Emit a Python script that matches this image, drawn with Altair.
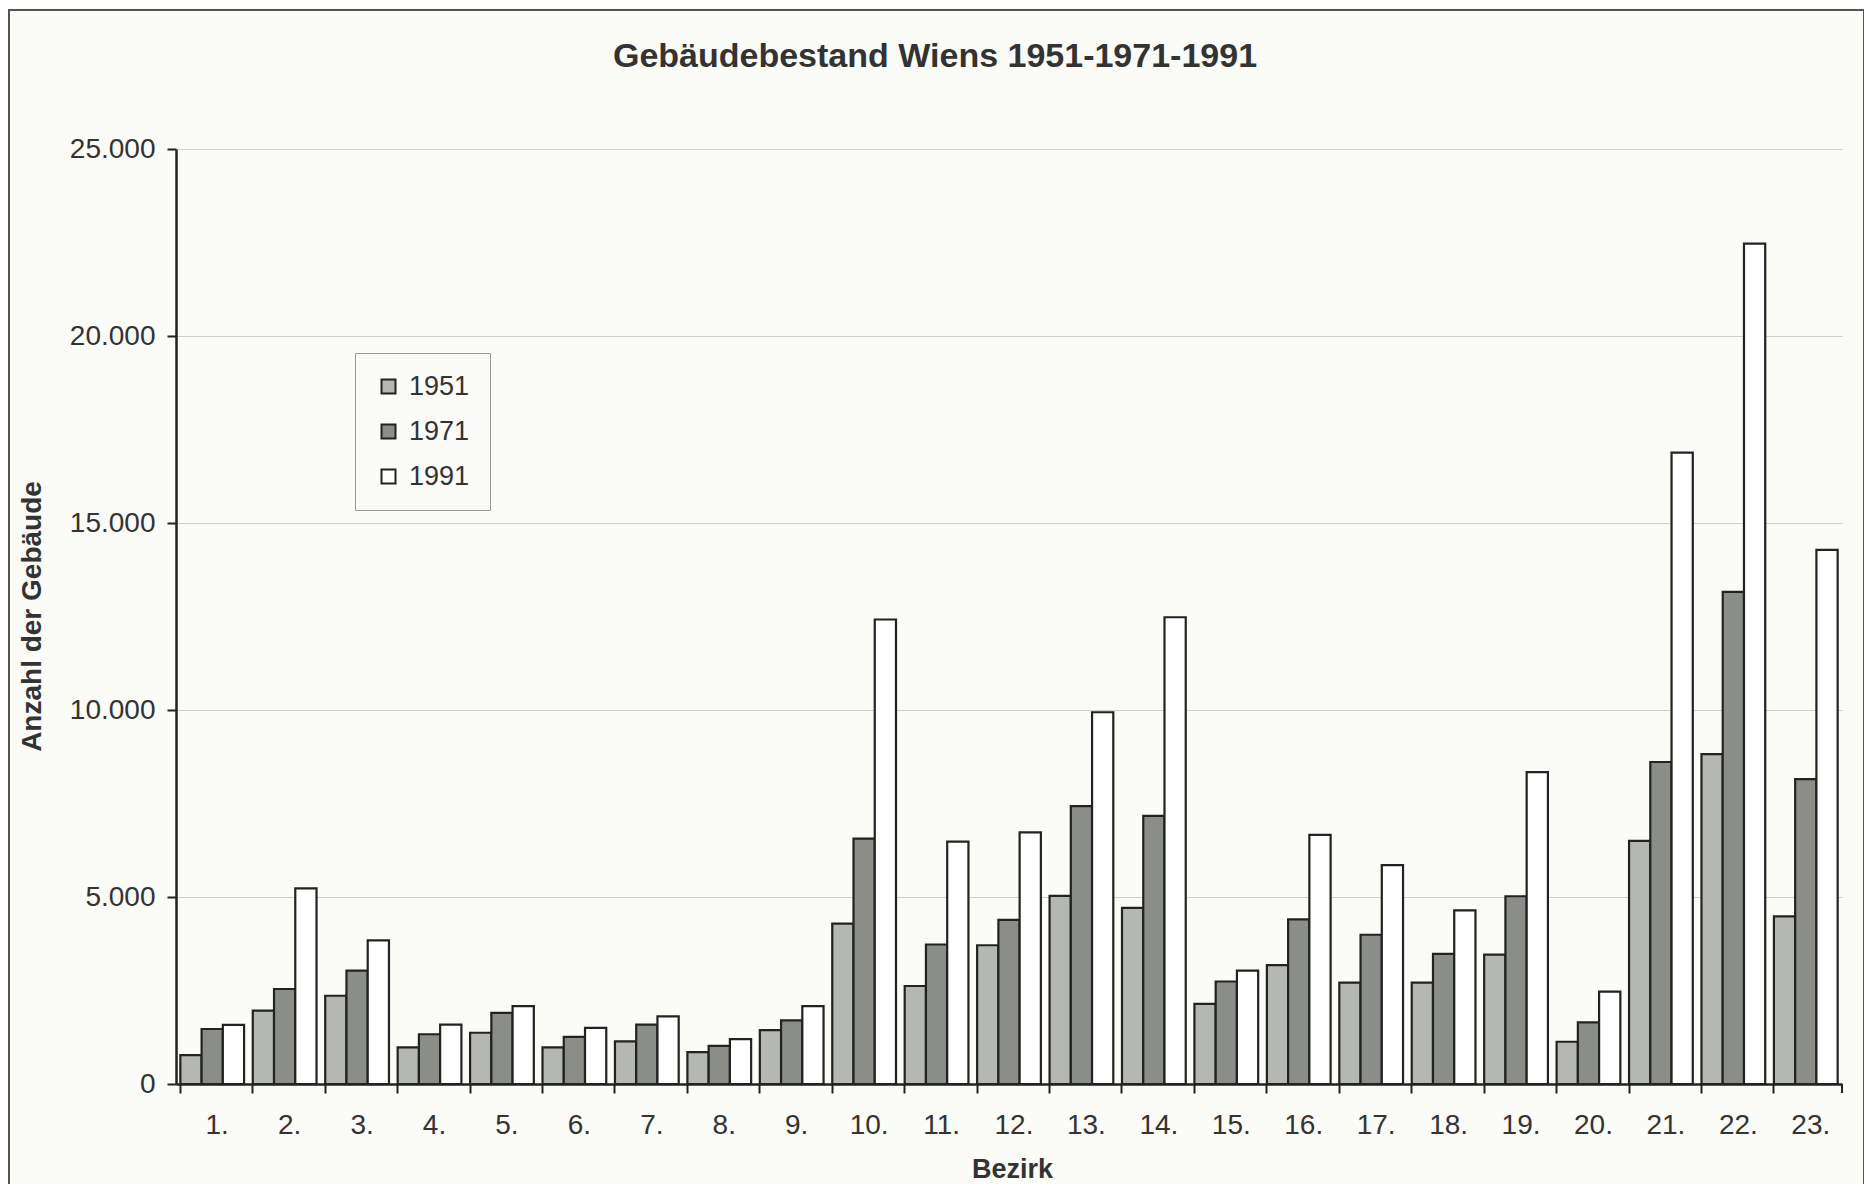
import altair as alt
import pandas as pd

bezirke = [f"{i}." for i in range(1, 24)]
years = ["1951", "1971", "1991"]
v1951 = [770, 1960, 2360, 980, 1370, 980, 1140, 850, 1440, 4290, 2620, 3710,
         5030, 4710, 2140, 3180, 2710, 2710, 3460, 1130, 6500, 8820, 4480]
v1971 = [1470, 2540, 3030, 1330, 1900, 1260, 1590, 1020, 1700, 6560, 3730, 4390,
         7430, 7170, 2740, 4400, 3990, 3480, 5020, 1650, 8610, 13160, 8150]
v1991 = [1580, 5230, 3840, 1590, 2080, 1500, 1810, 1200, 2080, 12420, 6480, 6730,
         9940, 12480, 3030, 6660, 5850, 4640, 8340, 2470, 16880, 22470, 14280]
colors = ["#b5b7b2", "#8b8d89", "#ffffff"]
title_text = "Gebäudebestand Wiens 1951-1971-1991"

rows = []
for b, a, c, d in zip(bezirke, v1951, v1971, v1991):
    for y, v in zip(years, (a, c, d)):
        rows.append({"Bezirk": b, "Jahr": y, "Anzahl": v})
df = pd.DataFrame(rows)

W, H = 1666, 935
BG = "#fbfbf7"
FONT = "Liberation Sans"

bars = alt.Chart(df).mark_bar(stroke="#222222", strokeWidth=2.2).encode(
    x=alt.X("Bezirk:N", sort=bezirke,
            scale=alt.Scale(paddingInner=0.12, paddingOuter=0.06),
            axis=alt.Axis(title="Bezirk", bandPosition=0, labelOffset=5,
                          labelAngle=0, tickSize=9, tickWidth=2, tickColor="#222222",
                          domainColor="#222222", domainWidth=2.5,
                          labelPadding=18, labelFontSize=28, labelColor="#333333",
                          labelFont=FONT, titleFont=FONT, titleFontSize=27,
                          titleFontWeight="bold", titleColor="#333333",
                          titleX=836, titleY=85, titleBaseline="middle",
                          titleAlign="center", grid=False)),
    xOffset=alt.XOffset("Jahr:N", sort=years),
    y=alt.Y("Anzahl:Q", scale=alt.Scale(domain=[0, 25000], nice=False),
            axis=alt.Axis(title="Anzahl der Gebäude", values=[0, 5000, 10000, 15000, 20000, 25000],
                          labelExpr="replace(format(datum.value, ','), ',', '.')",
                          tickSize=9, tickWidth=2, tickColor="#222222",
                          domainColor="#222222", domainWidth=2.5,
                          labelPadding=12, labelFontSize=28, labelColor="#333333",
                          labelFont=FONT, titleFont=FONT, titleFontSize=28,
                          titleFontWeight="bold", titleColor="#333333",
                          titleAngle=270, titleX=-144, titleY=467,
                          titleBaseline="middle", titleAlign="center",
                          grid=True, gridColor="#cfcfcc", gridWidth=1.2)),
    color=alt.Color("Jahr:N", sort=years,
                    scale=alt.Scale(domain=years, range=colors),
                    legend=alt.Legend(title=None, orient="none", legendX=179, legendY=204,
                                      symbolType="square", symbolSize=196,
                                      symbolStrokeColor="#222222", symbolStrokeWidth=2,
                                      labelFontSize=27, labelFont=FONT, labelColor="#333333",
                                      labelOffset=7, rowPadding=17, padding=20,
                                      strokeColor="#999999", fillColor=BG)),
)

end_tick = alt.Chart(pd.DataFrame({"k": [0]})).mark_rule(
    color="#222222", strokeWidth=2).encode(
    x=alt.value(W), y=alt.value(H), y2=alt.value(H + 9))

frame = alt.Chart(pd.DataFrame({"k": [0]})).mark_rect(
    fill=None, stroke="#555555", strokeWidth=2).encode(
    x=alt.value(-167), x2=alt.value(1688), y=alt.value(-139), y2=alt.value(1060))

title = alt.Chart(pd.DataFrame({"t": [title_text]})).mark_text(
    font=FONT, fontSize=34, fontWeight="bold", color="#333333",
    align="center", baseline="middle").encode(
    text="t:N", x=alt.value(759), y=alt.value(-92))

chart = alt.layer(frame, bars, end_tick, title).properties(
    width=W, height=H,
    autosize=alt.AutoSizeParams(type="none"),
    padding={"left": 168, "top": 141, "right": 22, "bottom": 100},
    background=BG,
).configure_view(stroke=None)

chart.save("out.html", embed_options={"renderer": "svg", "actions": False})
